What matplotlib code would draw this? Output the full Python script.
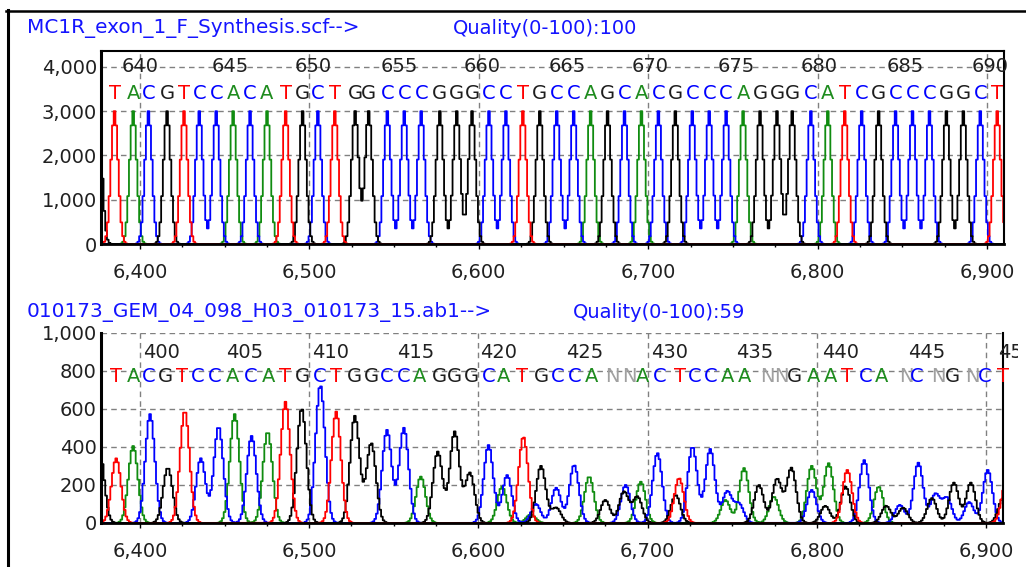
import numpy as np
import matplotlib.pyplot as plt
from matplotlib.lines import Line2D
from matplotlib.ticker import MultipleLocator, FuncFormatter
from matplotlib.transforms import Bbox

W, H = 1026, 567

# ---- upper trace (synthetic reference) ----
top_title = "MC1R_exon_1_F_Synthesis.scf-->"
top_quality = "Quality(0-100):100"
top_seq = "TACGTCCACATGCTGGCCCGGGCCTGCCAGCACGCCCAGGGCATCGCCCGGCT"
top_pos = [6385, 6396, 6405, 6416, 6426, 6435, 6445, 6455, 6465, 6475,
           6486, 6496, 6505, 6515, 6527, 6535, 6546, 6556, 6566, 6577,
           6587, 6596, 6606, 6616, 6626, 6636, 6646, 6656, 6666, 6676,
           6686, 6696, 6706, 6716, 6726, 6736, 6746, 6756, 6766, 6776,
           6785, 6796, 6806, 6816, 6826, 6836, 6846, 6856, 6866, 6876,
           6886, 6896, 6906]
top_height = 3000
top_lead_base, top_lead_pos = "G", 6375.5   # peak cut off at left edge
top_num_labels = [640, 645, 650, 655, 660, 665, 670, 675, 680, 685, 690]
top_num_pos = [6400, 6453, 6502, 6553, 6602, 6652, 6701, 6752, 6801, 6852, 6902]
top_yticks = [0, 1000, 2000, 3000, 4000]

# ---- lower trace (sample read) ----
bot_title = "010173_GEM_04_098_H03_010173_15.ab1-->"
bot_quality = "Quality(0-100):59"
bot_seq = "TACGTCCACATGCTGGCCAGGGCATGCCANNACTCCAANNGAATCANCNGNCT"
bot_call_pos = [6386, 6396, 6405, 6415, 6425, 6434, 6444, 6455, 6465.5, 6476,
                6486, 6496, 6506, 6516, 6527, 6537, 6546, 6556, 6565, 6577,
                6586, 6596, 6606, 6615, 6626, 6637, 6647, 6657, 6667, 6679,
                6689, 6697, 6707, 6719, 6728, 6737, 6747, 6757, 6771, 6779,
                6787, 6798, 6808, 6818, 6829, 6838, 6853, 6859, 6872, 6880,
                6892, 6899, 6910]
bot_num_labels = [400, 405, 410, 415, 420, 425, 430, 435, 440, 445, 450]
bot_num_pos = [6402, 6451, 6502, 6552, 6601, 6652, 6702, 6752, 6803, 6854, 6907]
bot_yticks = [0, 200, 400, 600, 800, 1000]

bot_A_pos = [6396, 6456, 6475.5, 6566, 6614, 6631, 6665.5, 6696, 6746, 6757,
             6774.6, 6797, 6807, 6836.6]
bot_A_h = [405, 573, 480, 244, 191, 45, 244, 217, 121, 289, 138, 300, 314, 191]
bot_C_pos = [6406, 6436, 6446.5, 6466, 6506.6, 6546, 6556, 6606, 6617, 6634,
             6646, 6656.6, 6687, 6705.8, 6726.5, 6737, 6747, 6754, 6797, 6828,
             6849, 6860, 6870, 6877, 6890, 6901]
bot_C_h = [573, 340, 507, 458, 726, 489, 500, 410, 252, 100,
           185, 305, 200, 368, 401, 389, 164, 100, 174, 331,
           95, 317, 150, 130, 110, 279]
bot_G_pos = [6376, 6416.5, 6495.6, 6527, 6536.7, 6576, 6586, 6595, 6637, 6646,
             6675, 6686, 6694, 6716.6, 6765.8, 6776.5, 6785, 6805, 6817, 6841,
             6851, 6868, 6881, 6891, 6910]
bot_G_h = [400, 290, 603, 563, 420, 375, 480, 263, 300, 80,
           121, 164, 138, 147, 200, 231, 289, 90, 191, 90,
           80, 131, 212, 212, 130]
bot_T_pos = [6386, 6426.5, 6486, 6516, 6626.6, 6718.6, 6818, 6912]
bot_T_h = [340, 590, 638, 586, 454, 236, 279, 220]

x_ticks = [6400, 6500, 6600, 6700, 6800, 6900]
x_range = (6377, 6910)

trace_col = {"A": "#108c10", "C": "#0000ff", "G": "#000000", "T": "#ff0000"}
base_col = {"A": "#1e8c1e", "C": "#0000ff", "G": "#1e1e1e", "T": "#ff0000", "N": "#a0a0a0"}
FS = 14

scan = np.arange(6368, 6918, 1.0)


def trace(pos, heights, sigma):
    y = np.zeros_like(scan)
    for p, h in zip(pos, heights):
        y += h * np.exp(-0.5 * ((scan - p) / sigma) ** 2)
    return y


def px_axes(left, top, right, bottom):
    return [left / W, 1 - bottom / H, (right - left) / W, (bottom - top) / H]


def style_axes(ax, yticks, ylim):
    ax.set_xlim(*x_range)
    ax.set_ylim(*ylim)
    ax.set_xticks(x_ticks)
    ax.xaxis.set_minor_locator(MultipleLocator(25))
    ax.set_yticks(yticks)
    ax.xaxis.set_major_formatter(FuncFormatter(lambda v, p: f"{v:,.0f}"))
    ax.yaxis.set_major_formatter(FuncFormatter(lambda v, p: f"{v:,.0f}"))
    ax.tick_params(axis="x", which="major", length=3.5, width=1, pad=10, labelsize=FS,
                   labelcolor="#202020")
    ax.tick_params(axis="x", which="minor", length=2.2, width=1)
    ax.tick_params(axis="y", length=0, pad=3, labelsize=FS, labelcolor="#202020")
    ax.grid(True, which="major", color="#808080", linestyle=(0, (4, 3)), lw=1)
    ax.set_axisbelow(True)
    ax.spines["left"].set_linewidth(2.2)
    ax.spines["bottom"].set_linewidth(2.0)
    ax.spines["right"].set_linewidth(1.5)
    ax.spines["top"].set_linewidth(1.5)
    for s in ax.spines.values():
        s.set_color("black")
        s.set_zorder(5)


fig = plt.figure(figsize=(W / 100, H / 100), dpi=100)
fig.patch.set_facecolor("white")

# ---------- top panel ----------
ax1 = fig.add_axes(px_axes(101, 51, 1004, 244))
style_axes(ax1, top_yticks, (0, 4360))
for b in "ACGT":
    pos = [p for s, p in zip(top_seq, top_pos) if s == b]
    if b == top_lead_base:
        pos = [top_lead_pos] + pos
    ax1.plot(scan, trace(pos, [top_height] * len(pos), 2.1), color=trace_col[b],
             lw=1.3, drawstyle="steps-mid", zorder=3)
for s, p in zip(top_seq, top_pos):
    ax1.text(p, 3400, s, color=base_col[s], fontsize=FS, ha="center", va="center",
             zorder=6)
for n, p in zip(top_num_labels, top_num_pos):
    ax1.text(p, 4000, str(n), color="#202020", fontsize=FS, ha="center", va="center",
             clip_on=False, zorder=6)

# ---------- bottom panel ----------
ax2 = fig.add_axes(px_axes(101, 333, 1003, 523))
style_axes(ax2, bot_yticks, (0, 1000))
ax2.spines["top"].set_visible(False)
bot_peaks = {"A": (bot_A_pos, bot_A_h), "C": (bot_C_pos, bot_C_h),
             "G": (bot_G_pos, bot_G_h), "T": (bot_T_pos, bot_T_h)}
for b in "ACGT":
    pos, hts = bot_peaks[b]
    ax2.plot(scan, trace(pos, hts, 2.8), color=trace_col[b], lw=1.3,
             drawstyle="steps-mid", zorder=3)
for s, p in zip(bot_seq, bot_call_pos):
    ax2.text(p, 770, s, color=base_col[s], fontsize=FS, ha="center", va="center",
             zorder=6)
# the last position number is cut by the window edge in the original
clip = Bbox.from_extents(0, 0, 1018, H)
for n, p in zip(bot_num_labels, bot_num_pos):
    t = ax2.text(p, 900, str(n), color="#202020", fontsize=FS, ha="left", va="center",
                 zorder=6, clip_on=True)
    t.set_clip_path(None)
    t.set_clip_box(clip)

# ---------- titles ----------
blue = "#1414ff"
fig.text(27 / W, 1 - 28 / H, top_title, color=blue, fontsize=14.4, va="center")
fig.text(453 / W, 1 - 28 / H, top_quality, color=blue, fontsize=FS, va="center")
fig.text(27 / W, 1 - 312 / H, bot_title, color=blue, fontsize=14.4, va="center")
fig.text(573 / W, 1 - 312 / H, bot_quality, color=blue, fontsize=FS, va="center")

# window frame (left and top edges)
fig.add_artist(Line2D([7.7 / W, 7.7 / W], [0, 1 - 10 / H], transform=fig.transFigure,
                      color="black", lw=2.2))
fig.add_artist(Line2D([6 / W, 1], [1 - 11.3 / H, 1 - 11.3 / H], transform=fig.transFigure,
                      color="black", lw=1.8))

fig.savefig("out.png", dpi=100)
